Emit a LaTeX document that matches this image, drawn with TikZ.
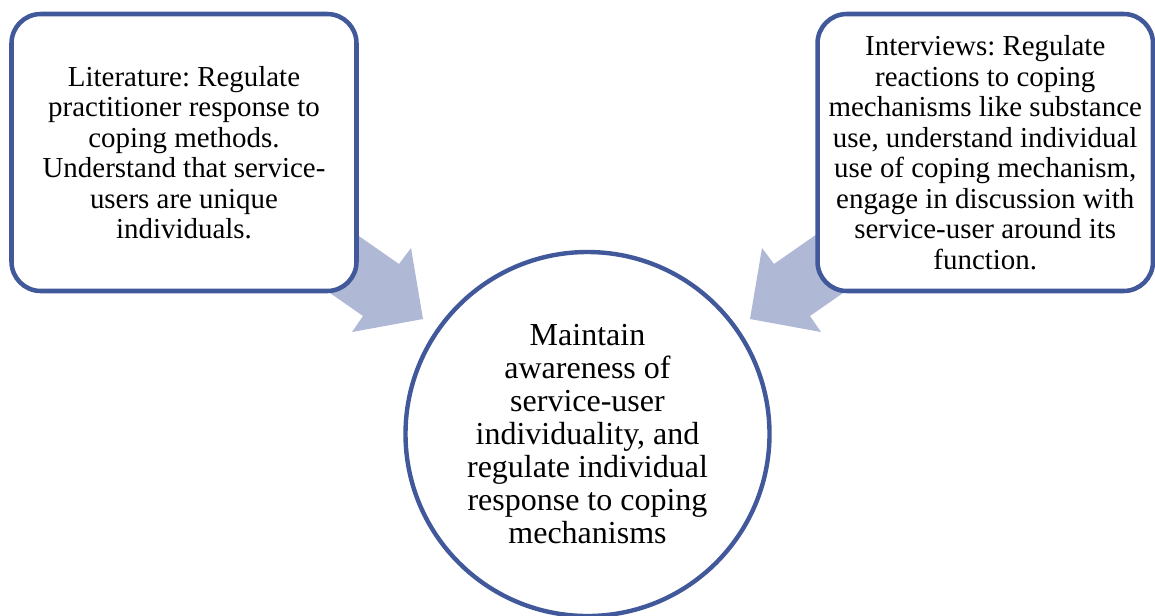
\documentclass[tikz,border=0pt]{standalone}
\usepackage{fontspec}
\setmainfont{Liberation Serif}
\frenchspacing
\definecolor{bordblue}{HTML}{41599B}
\definecolor{arrowfill}{HTML}{AFB8D5}
\tikzset{
  stagebox/.style={draw=bordblue, line width=3.4pt, fill=white, rounded corners=22pt,
    minimum height=207.75pt, align=center, inner sep=0pt,
    font=\rmfamily\frenchspacing\fontsize{21.7}{22.9}\selectfont},
  goalcircle/.style={draw=bordblue, line width=3.3pt, fill=white, circle,
    minimum size=273pt, inner sep=0pt, align=center,
    font=\rmfamily\frenchspacing\fontsize{24}{24.75}\selectfont},
  blockarrow/.style={fill=arrowfill, draw=none}
}
\begin{document}
\begin{tikzpicture}[x=0.75pt, y=-0.75pt]
\useasboundingbox (0,0) rectangle (1155,615);
% block arrows (behind the boxes)
\fill[blockarrow] (333,218) -- (399,264) -- (411,248) -- (423,319) -- (352,332) -- (363,316) -- (297,270) -- cycle;
\fill[blockarrow] (840,218) -- (774,264) -- (762,248) -- (750,319) -- (821,332) -- (810,316) -- (876,270) -- cycle;
% boxes
\node[stagebox, minimum width=258.75pt] (lit) at (184,152.5)
  {Literature: Regulate\\practitioner response to\\coping methods.\\Understand that service-\\users are unique\\individuals.};
\node[stagebox, minimum width=251.6pt] (int) at (985.25,152.5)
  {Interviews: Regulate\\reactions to coping\\mechanisms like substance\\use, understand individual\\use of coping mechanism,\\engage in discussion with\\service-user around its\\function.};
\node[goalcircle] (goal) at (587.5,434)
  {Maintain\\awareness of\\service-user\\individuality, and\\regulate individual\\response to coping\\mechanisms};
\end{tikzpicture}
\end{document}
